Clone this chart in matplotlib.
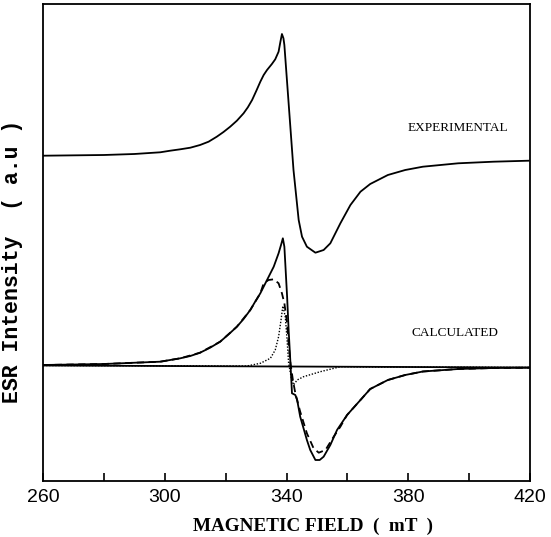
import matplotlib
matplotlib.use("Agg")
import matplotlib.pyplot as plt

# ---- data (field in mT, intensity in arbitrary units) ----
exp_field = [260, 280, 290, 298.5, 301.8, 305.1, 308.4, 311.6, 314.4, 317.1, 319.3,
             321.5, 323.7, 325.9, 327.3, 328.7, 330.1, 331.4, 332.5, 333.6, 335.2,
             336.3, 337.4, 338.0, 338.5, 339.0, 339.3, 340.7, 342.3, 344.0, 345.1,
             346.7, 349.5, 352.2, 354.4, 357.7, 361.0, 364.3, 367.5, 373.3, 379.0,
             384.8, 396.4, 408.0, 419.6]
exp_int = [325.3, 326, 327, 328.7, 330.3, 331.7, 333.3, 336, 339.3, 344.3, 349,
           354.3, 360.3, 367.7, 373.7, 381, 390.3, 399.3, 406, 411, 417,
           421.7, 429.3, 439.3, 447, 442.7, 436, 377.7, 311, 261, 244.3,
           234.3, 228.3, 231, 237.7, 257.7, 276, 289.3, 297, 306, 311,
           314.3, 317.7, 319.3, 320.3]

calc_field = [260, 280, 292, 298.5, 301.8, 305.1, 308.4, 311.6, 314.9, 318.2, 321.0,
              323.7, 325.9, 328.1, 329.7, 331.4, 333.6, 335.8, 337.4, 338.2, 338.8,
              339.3, 339.6, 340.2, 340.7, 341.3, 341.8, 342.9, 343.5, 344.5, 345.6,
              346.7, 347.8, 349.5, 350.9, 352.2, 354.4, 356.6, 359.9, 364.3, 367.5,
              373.3, 379.0, 384.8, 396.4, 408.0, 419.6]
calc_int = [116, 117, 118.5, 119.3, 121, 122.7, 125, 128.3, 133.3, 139.3, 146.7,
            154.3, 162, 171, 179.3, 187.7, 201, 214.3, 227.7, 236, 242.7,
            234.3, 217.7, 184.3, 151, 117.7, 87.7, 86, 81, 64.3, 52.7,
            41, 31, 21, 21, 24.3, 36, 51, 66, 81, 92,
            101, 106, 109.5, 112, 113, 113.3]

dash_field = [260, 280, 292, 298.5, 305.1, 311.6, 318.2, 323.7, 328.1, 331.4, 332.5,
              334.1, 335.8, 337.4, 338.5, 339.3, 340.2, 340.7, 341.3, 342.1, 342.9,
              344.5, 346.7, 348.9, 350.6, 352.8, 355.5, 357.7, 359.9, 364.3, 367.5,
              373.3, 379.0, 384.8, 396.4, 408.0, 419.6]
dash_int = [116, 117, 118.5, 119.3, 122.7, 128.3, 139.3, 154.3, 171, 187.7, 197.7,
            201, 201.7, 197.7, 187.7, 177.7, 157.7, 137.7, 117.7, 101, 87.7,
            69.3, 47.7, 32.7, 28.3, 31, 44.3, 54.3, 66, 81, 92,
            101, 106, 109.5, 112, 113, 113.3]

dot_field = [260, 300, 320, 327, 331.4, 334.7, 336.3, 337.4, 338.2, 338.8, 339.6,
             340.2, 340.7, 341.5, 342.3, 343.5, 345.6, 351.1, 357.7, 370, 400, 420]
dot_int = [115.5, 115.2, 115, 115, 117.7, 122.7, 131, 144.3, 161, 175, 164.3,
           141, 117.7, 104.3, 96, 101, 104.3, 109.3, 114.3, 114, 113.8, 113.5]

zero_field = [260, 420]
zero_int = [115.5, 113.5]

x_ticks = [260, 280, 300, 320, 340, 360, 380, 400, 420]
x_ticklabels = ["260", "", "300", "", "340", "", "380", "", "420"]

# ---- figure ----
W, H = 551, 537
fig = plt.figure(figsize=(W / 100, H / 100), dpi=100)
ax = fig.add_axes([43 / W, 1 - 481 / H, (530 - 43) / W, (481 - 4) / H])

lw = 1.3
ax.plot(exp_field, exp_int, color="black", lw=lw)
ax.plot(zero_field, zero_int, color="black", lw=lw)
ax.plot(calc_field, calc_int, color="black", lw=lw)
ax.plot(dash_field, dash_int, color="black", lw=lw, linestyle=(0, (4, 2.5)))
ax.plot(dot_field, dot_int, color="black", lw=1.0, linestyle=(0, (1, 1.2)))

ax.set_xlim(260, 420)
ax.set_ylim(0, 477)
ax.set_xticks(x_ticks)
ax.set_xticklabels(x_ticklabels, family=["Liberation Sans", "DejaVu Sans"],
                   fontsize=14)
ax.set_yticks([])
ax.tick_params(axis="x", direction="in", length=6, width=1.2, pad=6)
for s in ax.spines.values():
    s.set_linewidth(1.3)

ax.text(396.4, 352.7, "EXPERIMENTAL", family=["Liberation Serif", "DejaVu Serif"],
        fontsize=9.5, ha="center", va="center")
ax.text(395.2, 148, "CALCULATED", family=["Liberation Serif", "DejaVu Serif"],
        fontsize=9.5, ha="center", va="center")

fig.text(313 / W, 1 - 526 / H, "MAGNETIC FIELD  (  mT  )",
         family=["Liberation Serif", "DejaVu Serif"], fontweight="bold",
         fontsize=13.8, ha="center", va="center")
fig.text(13 / W, 1 - 261 / H, "ESR Intensity  ( a.u )",
         family=["Liberation Mono", "DejaVu Sans Mono"], fontweight="bold",
         fontsize=15.5, ha="center", va="center", rotation=90)

fig.savefig("out.png", dpi=100)
